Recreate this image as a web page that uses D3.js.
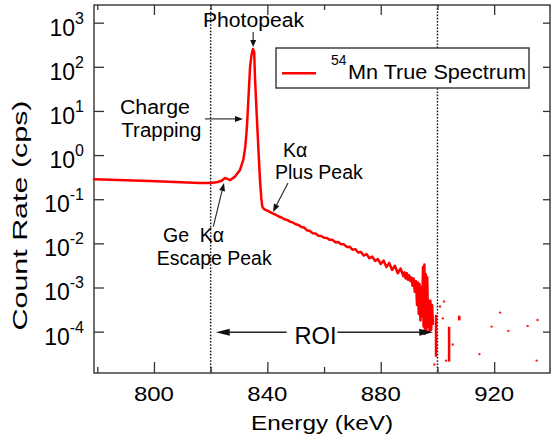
<!DOCTYPE html>
<html><head><meta charset="utf-8">
<script src="https://cdn.jsdelivr.net/npm/d3@7"></script>
<style>
body{margin:0;background:#fff}
text{font-family:"Liberation Sans",Arial,sans-serif;fill:#000}
</style>
</head><body>
<svg id="chart" width="551" height="441"></svg>
<script>
// ---------- data ----------
const xMajorTicks = [800, 840, 880, 920];
const xMinorTicks = [780, 820, 860, 900, 940];
const yTickExponents = [-4, -3, -2, -1, 0, 1, 2, 3];
const roiEdges = [820, 900];
const seriesName = "Mn True Spectrum";
const seriesIsotope = "54";

// main spectrum (keV, cps); null = gap
const energy = [778.9, 798.6, 816.2, 820.1, 822.6, 824.0, 825.06, 826.82, 828.59, 830.35,
  831.51, 832.22, 832.71, 833.06, 833.42, 833.88, 834.41, 834.93, 835.36, 835.64,
  836.17, 836.80, 837.40, 837.86, 838.21, 838.81,
  840, 841, 842, 843, 844, 845, 846, 847, 848, 849, 850, 851, 852, 853, 854, 855, 856, 857, 858, 859,
  860, 861, 862, 863, 864, 865, 866, 867, 868, 869, 870, 871, 872, 873, 874, 875, 876, 877, 878, 879,
  880, 881, 882, 883, 884, 885, 886, 887, 888,
  888.4, 888.8, 889.2, 889.6, 890.0, 890.4, 890.8, 891.2, 891.6, 892.0, 892.4, 892.8, 893.1, 893.4,
  893.7, 894.0, 894.3, 894.6, 894.9, 895.1, 895.4, 895.6, 895.9, 896.1, 896.4, 896.7, 897.0, 897.2,
  897.5, 897.8, 898.1, 898.4];
const rate = [0.284, 0.26, 0.233, 0.234, 0.246, 0.266, 0.304, 0.27, 0.325, 0.46,
  0.78, 1.55, 3.7, 8.9, 25, 94.5, 186, 254, 218, 55,
  10.5, 1.55, 0.273, 0.107, 0.068, 0.060,
  0.055, 0.051, 0.047, 0.0445, 0.0405, 0.0385, 0.0352, 0.0340, 0.0310, 0.0297, 0.0270, 0.0260, 0.0234, 0.0228,
  0.0197, 0.0190, 0.0170, 0.0167, 0.0149, 0.0147,
  0.0134, 0.0132, 0.0120, 0.0120, 0.0106, 0.0107, 0.0095, 0.0095, 0.0083, 0.0084, 0.0072, 0.0074, 0.0062,
  0.0064, 0.0053, 0.0057, 0.0046, 0.0050, 0.0040, 0.0044,
  0.0034, 0.0041, 0.0029, 0.0036, 0.0025, 0.0031, 0.0021, 0.0027, 0.0018,
  0.0022, 0.0016, 0.0021, 0.0015, 0.0019, 0.0014, 0.0017, 0.0011, 0.0016, 0.0008, 0.0014, 0.0004, 0.0013, 0.00025,
  0.0012, 0.00018, 0.0010, 0.00022, 0.0029, 0.00013, 0.0033, 0.00009, 0.0020, 0.0001, 0.0017, 0.00013, 0.0005, 0.0001,
  0.0005, 0.00011, 0.0004, 0.00015];

// sparse counts beyond the ROI
const barEnergy = [899.5, 904.1, 907.7];
const barHigh = [2.4e-4, 1.29e-4, 2.3e-4];
const barLow = [2.7e-5, 2.1e-5, 1.8e-4];
const dotEnergy = [900.9, 902.3, 901.9, 898.9, 903.0, 905.4, 914.8, 919.1, 922.1, 925.0, 931.8, 935.3, 935.0];
const dotRate = [3.7e-4, 4.8e-4, 2.0e-4, 1.8e-5, 2.2e-5, 5.1e-5, 3.1e-5, 1.3e-4, 2.7e-4, 1.04e-4, 1.35e-4, 1.84e-4, 2.2e-5];

// ---------- layout ----------
const W = 551, H = 441;
const L = 94, R = 550, T = 5, B = 373;
const svg = d3.select("#chart");
svg.append("rect").attr("width", W).attr("height", H).attr("fill", "#fff");

const x = d3.scaleLinear().domain([778.85, 939.7]).range([L, R]);
const y = d3.scaleLog().domain([1.156e-5, 2512]).range([B, T]);

const frameColor = "#333";

// ROI dotted lines
svg.append("g").selectAll("line").data(roiEdges).join("line")
  .attr("x1", d => x(d)).attr("x2", d => x(d)).attr("y1", T).attr("y2", B)
  .attr("stroke", "#111").attr("stroke-width", 1.4).attr("stroke-dasharray", "1.6,1.6");

// axes (inward ticks)
function styleAxis(g){ g.select(".domain").remove(); g.selectAll("line").attr("stroke", frameColor).attr("stroke-width", 1.3); g.selectAll("text").remove(); }
svg.append("g").attr("transform", `translate(0,${B})`).call(d3.axisBottom(x).tickValues(xMajorTicks).tickSize(-11)).call(styleAxis);
svg.append("g").attr("transform", `translate(0,${B})`).call(d3.axisBottom(x).tickValues(xMinorTicks).tickSize(-6)).call(styleAxis);
svg.append("g").attr("transform", `translate(0,${T})`).call(d3.axisTop(x).tickValues(xMajorTicks).tickSize(-10)).call(styleAxis);
svg.append("g").attr("transform", `translate(0,${T})`).call(d3.axisTop(x).tickValues(xMinorTicks).tickSize(-5)).call(styleAxis);
const yTickVals = yTickExponents.map(e => Math.pow(10, e));
svg.append("g").attr("transform", `translate(${L},0)`).call(d3.axisLeft(y).tickValues(yTickVals).tickSize(-10)).call(styleAxis);
svg.append("g").attr("transform", `translate(${R},0)`).call(d3.axisRight(y).tickValues(yTickVals).tickSize(-7)).call(styleAxis);

// frame
svg.append("rect").attr("x", L).attr("y", T).attr("width", R - L).attr("height", B - T)
  .attr("fill", "none").attr("stroke", frameColor).attr("stroke-width", 1.4);

// x tick labels
svg.append("g").selectAll("text").data(xMajorTicks).join("text")
  .attr("x", d => x(d)).attr("y", 400.5).attr("text-anchor", "middle")
  .attr("font-size", 21).attr("textLength", 40).attr("lengthAdjust", "spacingAndGlyphs")
  .text(d => d);

// y tick labels 10^n
const yl = svg.append("g").selectAll("text").data(yTickExponents).join("text")
  .attr("x", 84).attr("y", d => y(Math.pow(10, d)) + 13).attr("text-anchor", "end");
yl.append("tspan").attr("font-size", 23).text("10");
yl.append("tspan").attr("font-size", 16).attr("dy", -12).text(d => d);

// axis titles
svg.append("text").attr("x", 322).attr("y", 430).attr("text-anchor", "middle")
  .attr("font-size", 21).attr("textLength", 142).attr("lengthAdjust", "spacingAndGlyphs").text("Energy (keV)");
svg.append("text").attr("transform", "translate(27,215.5) rotate(-90)").attr("text-anchor", "middle")
  .attr("font-size", 21).attr("textLength", 230).attr("lengthAdjust", "spacingAndGlyphs").text("Count Rate (cps)");

// spectrum
const pts = energy.map((e, i) => [e, rate[i]]);
const line = d3.line().defined(d => d[1] != null).x(d => x(d[0])).y(d => y(d[1]));
svg.append("path").attr("d", line(pts)).attr("fill", "none").attr("stroke", "#ff0000")
  .attr("stroke-width", 2.5).attr("stroke-linejoin", "round").attr("stroke-linecap", "round");
svg.append("g").selectAll("line").data(barEnergy).join("line")
  .attr("x1", d => x(d)).attr("x2", d => x(d))
  .attr("y1", (d, i) => y(barHigh[i])).attr("y2", (d, i) => y(barLow[i]))
  .attr("stroke", "#ff0000").attr("stroke-width", 2.5);
svg.append("g").selectAll("circle").data(dotEnergy).join("circle")
  .attr("cx", d => x(d)).attr("cy", (d, i) => y(dotRate[i])).attr("r", 1.2).attr("fill", "#ff2020");

// ---------- annotations (data coordinates) ----------
function arrow(e1, v1, e2, v2, len, hw, sw){
  const x1 = x(e1), y1 = y(v1), x2 = x(e2), y2 = y(v2);
  const a = Math.atan2(y2 - y1, x2 - x1);
  const bx = x2 - len * Math.cos(a), by = y2 - len * Math.sin(a);
  svg.append("line").attr("x1", x1).attr("y1", y1).attr("x2", bx).attr("y2", by)
    .attr("stroke", "#222").attr("stroke-width", sw);
  const px = -Math.sin(a) * hw, py = Math.cos(a) * hw;
  svg.append("path").attr("d", `M${x2},${y2}L${bx + px},${by + py}L${bx - px},${by - py}Z`).attr("fill", "#111");
}
function label(e, v, str, size, anchor, len){
  const t = svg.append("text").attr("x", x(e)).attr("y", y(v)).attr("font-size", size)
    .attr("text-anchor", anchor || "start").style("white-space", "pre").text(str);
  if (len) t.attr("textLength", len).attr("lengthAdjust", "spacingAndGlyphs");
  return t;
}

// Photopeak
label(835.1, 780, "Photopeak", 19.5, "middle", 101);
arrow(835.0, 616, 835.0, 282, 7, 3, 1.1);
// Charge Trapping
label(788.0, 8.4, "Charge", 19.5, "start", 70);
label(788.5, 2.58, "Trapping", 19.5, "start", 80);
arrow(818.0, 6.6, 831.41, 6.6, 8, 3, 1.1);
// K alpha plus peak
label(845.5, 0.908, "Kα", 19.5, "start");
label(842.7, 0.281, "Plus Peak", 19.5, "start");
arrow(847.28, 0.234, 841.99, 0.0516, 8, 3, 1.1);
// Ge K alpha escape peak
label(803.2, 0.0108, "Ge  Kα", 19.5, "start");
label(841.53, 0.00325, "Escape Peak", 19.5, "end");
arrow(820.93, 0.0239, 824.7, 0.234, 8, 3, 1.1);
// ROI
label(856.98, 5.27e-5, "ROI", 24, "middle", 42);
arrow(846.8, 9.7e-5, 821.8, 9.7e-5, 14, 3.5, 1.5);
arrow(864.7, 9.7e-5, 898.5, 9.7e-5, 14, 3.5, 1.5);

// ---------- legend ----------
const lg = svg.append("g");
lg.append("rect").attr("x", 276).attr("y", 48).attr("width", 253).attr("height", 40)
  .attr("fill", "#fff").attr("stroke", frameColor).attr("stroke-width", 1.4);
lg.append("line").attr("x1", 282).attr("x2", 316).attr("y1", 73.3).attr("y2", 73.3)
  .attr("stroke", "#ff0000").attr("stroke-width", 2.5);
lg.append("text").attr("x", 331).attr("y", 65).attr("font-size", 14).text(seriesIsotope);
lg.append("text").attr("x", 348).attr("y", 78.5).attr("font-size", 20.5)
  .attr("textLength", 178).attr("lengthAdjust", "spacingAndGlyphs").text(seriesName);
</script>
</body></html>
